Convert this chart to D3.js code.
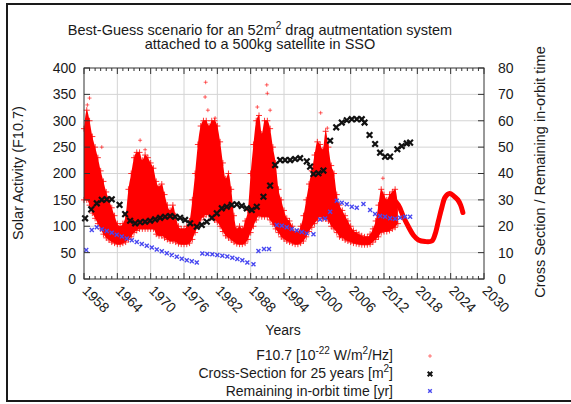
<!DOCTYPE html>
<html>
<head>
<meta charset="utf-8">
<script src="https://d3js.org/d3.v7.min.js"></script>
<style>
  html, body { margin: 0; padding: 0; background: #fff; }
  svg text { font-family: "Liberation Sans", Arial, sans-serif; fill: #1a1a1a; }
</style>
</head>
<body>
<div id="vis"></div>
<script>
// daily F10.7 cloud, read as an upper / lower envelope every half year
var f107Years = [1958.0,1958.5,1959.0,1959.5,1960.0,1960.5,1961.0,1961.5,1962.0,1962.5,1963.0,1963.5,1964.0,1964.5,1965.0,1965.5,
  1966.0,1966.5,1967.0,1967.5,1968.0,1968.5,1969.0,1969.5,1970.0,1970.5,1971.0,1971.5,1972.0,1972.5,1973.0,1973.5,1974.0,1974.5,1975.0,1975.5,1976.0,1976.5,1977.0,
  1977.5,1978.0,1978.5,1979.0,1979.5,1980.0,1980.5,1981.0,1981.5,1982.0,1982.5,1983.0,1983.5,1984.0,1984.5,1985.0,1985.5,1986.0,1986.5,1987.0,1987.5,
  1988.0,1988.5,1989.0,1989.5,1990.0,1990.5,1991.0,1991.5,1992.0,1992.5,1993.0,1993.5,1994.0,1994.5,1995.0,1995.5,1996.0,1996.5,1997.0,1997.5,
  1998.0,1998.5,1999.0,1999.5,2000.0,2000.5,2001.0,2001.5,2002.0,2002.5,2003.0,2003.5,2004.0,2004.5,2005.0,2005.5,2006.0,2006.5,2007.0,2007.5,2008.0,2008.5,2009.0,2009.5,2010.0,
  2010.5,2011.0,2011.5,2012.0,2012.5,2013.0,2013.5,2014.0,2014.5];
var f107High = [285,320,300,270,250,230,205,185,165,150,135,120,105,100,105,120,
  170,200,230,240,240,225,235,230,220,210,185,175,180,160,140,130,140,120,100,95,95,100,110,
  150,200,255,290,300,300,290,300,300,290,260,220,190,200,170,120,95,100,95,110,130,
  200,255,300,310,275,300,300,285,250,220,170,150,130,115,110,100,90,90,100,120,
  150,180,205,235,260,255,245,280,250,215,200,160,140,130,120,110,100,92,88,85,82,80,80,85,95,
  110,140,170,160,150,160,165,170,140];
var f107Low = [150,150,140,125,115,105,95,85,78,74,70,68,66,66,68,70,
  75,80,88,92,95,95,95,95,95,95,85,82,82,78,75,72,72,70,67,66,66,66,68,
  75,88,100,112,118,122,122,118,112,108,100,90,82,78,74,70,67,66,66,68,75,
  88,100,112,120,118,118,118,112,104,95,88,80,76,72,70,68,66,66,68,72,
  80,90,98,105,112,118,114,114,110,100,95,88,80,78,74,72,70,68,67,66,65,65,65,66,70,
  75,80,88,90,90,92,95,98,105];
// isolated daily spikes above the cloud
var spikeYears  = [1958.6,1959.0,1961.2,1968.1,1969.0,1979.8,1979.9,1980.3,1981.6,1989.2,1990.9,1991.0,1991.5,2000.6,2001.8,2011.8];
var spikeValues = [330,343,250,263,245,345,373,320,305,326,368,352,320,315,286,191];

// smoothed forecast after the last measured cycle
var forecastYears  = [2013.0,2013.7,2014.6,2015.5,2016.4,2017.3,2018.2,2019.4,2020.6,2021.2,2021.8,2022.4,2023.0,2023.8,2024.6,2025.3,2025.8,2026.2];
var forecastValues = [146,150,140,118,99,83,74,71,72,85,110,135,155,162,157,150,140,126];

// cross-section for 25 years [m^2] (right axis)
var crossYears = [1958.2,1959.3,1960.3,1961.2,1962.1,1963.0,1964.4,1965.4,1966.3,1967.2,1968.1,1969.0,1969.9,1970.8,1971.7,1972.6,1973.5,1974.4,1975.3,1976.2,1977.1,
  1978.3,1979.2,1980.1,1981.0,1981.9,1982.8,1983.7,1984.6,1985.5,1986.4,1987.3,1988.2,1989.1,1990.3,1991.5,1992.4,1993.3,1994.2,1995.1,1996.0,1996.9,
  1998.1,1998.7,1999.3,2000.2,2001.1,2002.3,2003.4,2004.4,2005.3,2006.2,2007.1,2008.0,2008.5,2009.4,2010.4,2011.3,2012.2,2013.1,2014.4,2015.2,2016.1,2016.7];
var crossValues = [23.0,26.4,28.7,30.0,30.2,30.2,28.1,24.6,22.1,21.1,21.5,21.7,22.1,22.6,23.2,23.6,23.9,23.6,23.2,22.4,21.1,
  19.8,20.5,21.7,23.2,24.9,26.8,27.4,28.1,28.3,27.7,26.8,26.2,27.4,31.2,35.4,43.2,45.1,45.1,45.1,45.5,45.8,
  44.6,42.6,39.8,40.1,41.1,52.4,57.5,59.3,60.2,60.6,60.6,60.6,59.3,54.6,51.2,47.9,46.4,46.4,49.2,50.4,51.4,51.7];

// remaining in-orbit time [yr] (right axis)
var orbitYears = [1958.4,1959.4,1960.3,1961.2,1962.1,1963.0,1963.9,1964.8,1965.7,1966.6,1967.5,1968.4,1969.3,1970.2,1971.1,1972.0,1972.9,1973.8,1974.7,1975.6,1976.5,1977.4,1978.3,
  1979.3,1980.2,1981.1,1982.0,1982.9,1983.8,1984.7,1985.6,1986.5,1987.4,1988.5,1989.4,1990.4,1991.3,
  1992.7,1993.6,1994.5,1995.4,1996.3,1997.2,1998.1,1999.3,2000.5,2001.4,2002.3,2003.5,2004.4,2005.3,2006.2,2007.1,2008.3,2009.5,2010.4,2011.3,2012.2,2013.1,2014.0,2014.9,2015.8,2016.7];
var orbitValues = [11.0,18.6,19.6,18.9,18.2,17.5,16.8,16.1,15.4,14.7,14.0,13.3,12.6,11.9,11.2,10.5,9.8,9.1,8.4,7.7,7.1,6.7,6.3,
  9.7,9.5,9.4,9.1,8.8,8.5,8.1,7.6,7.1,6.3,5.6,10.6,11.4,11.4,
  20.5,20.2,19.6,19.0,18.4,17.8,17.3,17.0,22.6,22.9,25.5,29.7,28.9,28.3,27.4,27.0,28.4,26.2,24.6,23.9,23.6,23.0,22.8,23.2,23.6,23.6];

var yearTicks  = [1958,1964,1970,1976,1982,1988,1994,2000,2006,2012,2018,2024,2030];
var leftTicks  = [0,50,100,150,200,250,300,350,400];
var rightTicks = [0,10,20,30,40,50,60,70,80];

var W = 571, H = 404;
var margin = {top: 68, left: 84, right: 87, bottom: 125};
var width = W - margin.left - margin.right;
var height = H - margin.top - margin.bottom;

var svg = d3.select('#vis').append('svg')
    .attr('width', W)
    .attr('height', H);

// outer frame of the picture
svg.append('rect')
    .attr('x', 7).attr('y', 4)
    .attr('width', 600).attr('height', 397)
    .attr('fill', 'none')
    .attr('stroke', '#1a1a1a')
    .attr('stroke-width', 2);

var g = svg.append('g')
    .attr('transform', 'translate(' + margin.left + ',' + margin.top + ')');

var x = d3.scaleLinear().domain([1958, 2030]).range([0, width]);
var yL = d3.scaleLinear().domain([0, 400]).range([height, 0]);
var yR = d3.scaleLinear().domain([0, 80]).range([height, 0]);

// grid
g.append('g').selectAll('line').data(yearTicks.slice(1, -1)).enter().append('line')
    .attr('x1', d => x(d)).attr('x2', d => x(d))
    .attr('y1', 0).attr('y2', height)
    .attr('stroke', '#d4d4d4').attr('stroke-width', 1);
g.append('g').selectAll('line').data(leftTicks.slice(1, -1)).enter().append('line')
    .attr('x1', 0).attr('x2', width)
    .attr('y1', d => yL(d)).attr('y2', d => yL(d))
    .attr('stroke', '#d4d4d4').attr('stroke-width', 1);

function plus(s) { return 'M' + (-s) + ',0H' + s + 'M0,' + (-s) + 'V' + s; }
function cross(s) { return 'M' + (-s) + ',' + (-s) + 'L' + s + ',' + s + 'M' + (-s) + ',' + s + 'L' + s + ',' + (-s); }

var red = '#ff0000';
var f107 = f107Years.map(function(d, i) { return {year: d, hi: f107High[i], lo: f107Low[i]}; });

var area = d3.area()
    .x(d => x(d.year))
    .y0(d => yL(d.lo))
    .y1(d => yL(d.hi))
    .curve(d3.curveMonotoneX);

g.append('path')
    .datum(f107)
    .attr('d', area)
    .attr('fill', red);

var edge = g.append('g').attr('stroke', red).attr('stroke-width', 1).attr('fill', 'none');
edge.selectAll('.hi').data(f107).enter().append('path')
    .attr('class', 'hi')
    .attr('stroke-opacity', 0.8)
    .attr('transform', d => 'translate(' + x(d.year) + ',' + yL(d.hi) + ')')
    .attr('d', plus(3));
edge.selectAll('.lo').data(f107).enter().append('path')
    .attr('class', 'lo')
    .attr('stroke-opacity', 0.8)
    .attr('transform', d => 'translate(' + x(d.year) + ',' + yL(d.lo) + ')')
    .attr('d', plus(3));
edge.selectAll('.spike').data(spikeYears).enter().append('path')
    .attr('class', 'spike')
    .attr('stroke-opacity', 0.6)
    .attr('transform', (d, i) => 'translate(' + x(d) + ',' + yL(spikeValues[i]) + ')')
    .attr('d', plus(2));

// forecast
var forecast = forecastYears.map(function(d, i) { return [d, forecastValues[i]]; });
g.append('path')
    .datum(forecast)
    .attr('d', d3.line().x(d => x(d[0])).y(d => yL(d[1])).curve(d3.curveCatmullRom))
    .attr('fill', 'none')
    .attr('stroke', red)
    .attr('stroke-width', 5)
    .attr('stroke-linecap', 'round')
    .attr('stroke-linejoin', 'round');

// remaining in-orbit time
g.append('g').selectAll('path').data(orbitYears).enter().append('path')
    .attr('transform', (d, i) => 'translate(' + x(d) + ',' + yR(orbitValues[i]) + ')')
    .attr('d', cross(2))
    .attr('stroke', '#4848f0')
    .attr('stroke-width', 1.4)
    .attr('fill', 'none');

// cross-section
g.append('g').selectAll('path').data(crossYears).enter().append('path')
    .attr('transform', (d, i) => 'translate(' + x(d) + ',' + yR(crossValues[i]) + ')')
    .attr('d', cross(2.8))
    .attr('stroke', '#111')
    .attr('stroke-width', 2.2)
    .attr('fill', 'none');

// border
g.append('rect')
    .attr('width', width).attr('height', height)
    .attr('fill', 'none')
    .attr('stroke', '#333').attr('stroke-width', 1);

// ticks
var tickG = g.append('g').attr('stroke', '#333').attr('stroke-width', 1);
var minorYears = d3.range(1958, 2031).filter(d => yearTicks.indexOf(d) < 0);
tickG.selectAll('.mn').data(minorYears).enter().append('path')
    .attr('d', d => 'M' + x(d) + ',' + height + 'v-3M' + x(d) + ',0v3');
tickG.selectAll('.mj').data(yearTicks).enter().append('path')
    .attr('d', d => 'M' + x(d) + ',' + height + 'v-6M' + x(d) + ',0v6');
tickG.selectAll('.yl').data(leftTicks).enter().append('path')
    .attr('d', d => 'M0,' + yL(d) + 'h6');
tickG.selectAll('.yr').data(rightTicks).enter().append('path')
    .attr('d', d => 'M' + width + ',' + yR(d) + 'h-6');

// tick labels
g.selectAll('.xl').data(yearTicks).enter().append('text')
    .attr('transform', d => 'translate(' + (x(d) + 1) + ',' + (height + 9) + ') rotate(45)')
    .attr('dy', '0.35em')
    .attr('font-size', 14)
    .text(d => d);
g.selectAll('.ylt').data(leftTicks).enter().append('text')
    .attr('x', -8).attr('y', d => yL(d))
    .attr('dy', '0.35em')
    .attr('text-anchor', 'end')
    .attr('font-size', 14)
    .text(d => d);
g.selectAll('.yrt').data(rightTicks).enter().append('text')
    .attr('x', width + 14).attr('y', d => yR(d))
    .attr('dy', '0.35em')
    .attr('font-size', 14)
    .text(d => d);

// axis titles
svg.append('text')
    .attr('x', 283).attr('y', 335)
    .attr('text-anchor', 'middle')
    .attr('font-size', 14)
    .text('Years');
svg.append('text')
    .attr('transform', 'translate(23,173) rotate(-90)')
    .attr('text-anchor', 'middle')
    .attr('font-size', 14.5)
    .text('Solar Activity (F10.7)');
svg.append('text')
    .attr('transform', 'translate(545,172) rotate(-90)')
    .attr('text-anchor', 'middle')
    .attr('font-size', 14.5)
    .text('Cross Section / Remaining in-orbit time');

// title
var t1 = svg.append('text').attr('x', 260).attr('y', 35).attr('text-anchor', 'middle').attr('font-size', 14.5);
t1.append('tspan').text('Best-Guess scenario for an 52m');
t1.append('tspan').attr('dy', -6).attr('font-size', 10).text('2');
t1.append('tspan').attr('dy', 6).text(' drag autmentation system');
svg.append('text').attr('x', 260).attr('y', 49).attr('text-anchor', 'middle').attr('font-size', 14.5)
    .text('attached to a 500kg satellite in SSO');

// legend
var lx = 393;
var l1 = svg.append('text').attr('x', lx).attr('y', 360).attr('text-anchor', 'end').attr('font-size', 14);
l1.append('tspan').text('F10.7 [10');
l1.append('tspan').attr('dy', -6).attr('font-size', 10).text('-22');
l1.append('tspan').attr('dy', 6).text(' W/m');
l1.append('tspan').attr('dy', -6).attr('font-size', 10).text('2');
l1.append('tspan').attr('dy', 6).text('/Hz]');
var l2 = svg.append('text').attr('x', lx).attr('y', 378).attr('text-anchor', 'end').attr('font-size', 14);
l2.append('tspan').text('Cross-Section for 25 years [m');
l2.append('tspan').attr('dy', -6).attr('font-size', 10).text('2');
l2.append('tspan').attr('dy', 6).text(']');
svg.append('text').attr('x', lx).attr('y', 396).attr('text-anchor', 'end').attr('font-size', 14)
    .text('Remaining in-orbit time [yr]');

svg.append('path').attr('transform', 'translate(430,356)').attr('d', plus(2))
    .attr('stroke', red).attr('stroke-opacity', 0.5).attr('stroke-width', 1);
svg.append('path').attr('transform', 'translate(430,374)').attr('d', cross(2.3))
    .attr('stroke', '#111').attr('stroke-width', 2);
svg.append('path').attr('transform', 'translate(430,391)').attr('d', cross(1.8))
    .attr('stroke', '#4848f0').attr('stroke-width', 1.4);
</script>
</body>
</html>
